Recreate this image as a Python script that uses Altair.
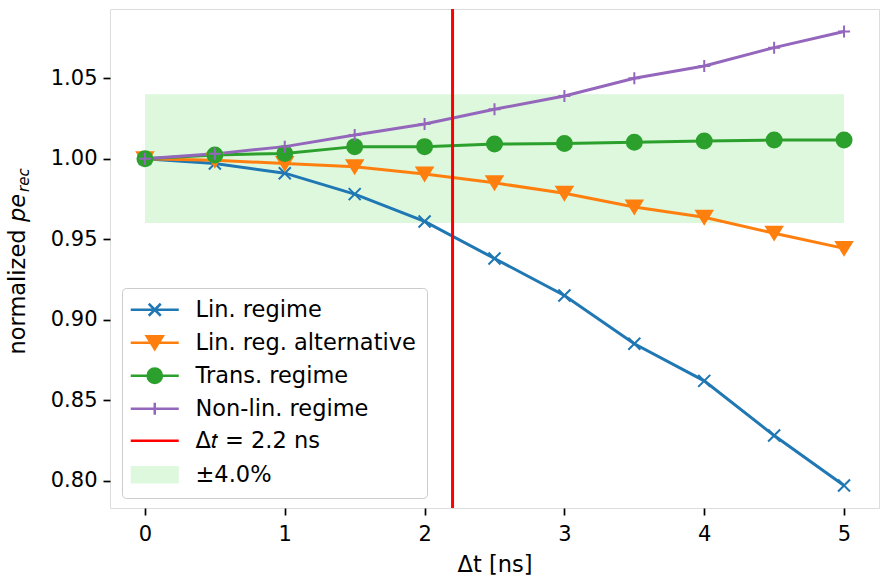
import altair as alt
import pandas as pd

# ---------------- data ----------------
dt = [0.0, 0.5, 1.0, 1.5, 2.0, 2.5, 3.0, 3.5, 4.0, 4.5, 5.0]
lin_regime = [1.000, 0.997, 0.991, 0.978, 0.961, 0.938, 0.915, 0.885, 0.862, 0.828, 0.797]
lin_alt = [1.000, 0.999, 0.997, 0.995, 0.9905, 0.985, 0.9785, 0.970, 0.9636, 0.9537, 0.9443]
trans_regime = [1.000, 1.0023, 1.0033, 1.0075, 1.0075, 1.0091, 1.0095, 1.0102, 1.011, 1.0116, 1.0116]
nonlin_regime = [1.000, 1.003, 1.0075, 1.0147, 1.0216, 1.0307, 1.039, 1.050, 1.0576, 1.069, 1.079]

series_names = ["Lin. regime", "Lin. reg. alternative", "Trans. regime", "Non-lin. regime"]
series_colors = ["#1f77b4", "#ff7f0e", "#2ca02c", "#9467bd"]

vline_x = [2.2]
vline_label = ["Δ𝑡 = 2.2 ns"]
band_x0 = [0.0]
band_x1 = [5.0]
band_lo = [0.96]
band_hi = [1.04]
band_label = ["±4.0%"]

x_ticks = [0, 1, 2, 3, 4, 5]
y_ticks = [0.80, 0.85, 0.90, 0.95, 1.00, 1.05]

ytitle_main = ["normalized"]
ytitle_var = ["pe"]
ytitle_sub = ["rec"]

FONT = "DejaVu Sans"
FS_TICK = 21
FS = 22.5

# ---------------- tables ----------------
rows = []
for name, vals in zip(series_names, [lin_regime, lin_alt, trans_regime, nonlin_regime]):
    for x, v in zip(dt, vals):
        rows.append({"dt": x, "val": v, "series": name})
df = pd.DataFrame(rows)

df_vline = pd.DataFrame({"x": vline_x, "label": vline_label})
df_band = pd.DataFrame({"x0": band_x0, "x1": band_x1, "lo": band_lo, "hi": band_hi, "label": band_label})

legend_labels = series_names + vline_label + band_label
df_legend = pd.DataFrame({"label": legend_labels})

xscale = alt.Scale(domain=[-0.25, 5.25], nice=False, zero=False)
yscale = alt.Scale(domain=[0.783, 1.093], nice=False, zero=False)

xaxis = alt.Axis(values=x_ticks, format="d", title="Δt [ns]", grid=False, domain=False,
                 tickSize=7, tickWidth=1.7, tickColor="black", labelPadding=8,
                 labelFontSize=FS_TICK, labelFont=FONT, labelColor="black",
                 titleFontSize=FS, titleFont=FONT, titleFontWeight="normal",
                 titleColor="black", titlePadding=9)
yaxis = alt.Axis(values=y_ticks, format=".2f", title=None, grid=False, domain=False,
                 tickSize=7, tickWidth=1.7, tickColor="black", labelPadding=6,
                 labelFontSize=FS_TICK, labelFont=FONT, labelColor="black")

# chart marker shapes (unit = sqrt(size)/2)
chart_shapes = [
    "M-1,-1L1,1M-1,1L1,-1",
    "M-1.33,-1.08L1.33,-1.08L0,1.08Z",
    "M1.25,0A1.25,1.25 0 1,1 -1.25,0A1.25,1.25 0 1,1 1.25,0Z",
    "M-1,0H1M0,-1V1",
]
chart_fills = ["transparent", "#ff7f0e", "#2ca02c", "transparent"]

band_color = "#ddf8dd"

band = alt.Chart(df_band).mark_rect(color=band_color).encode(
    x=alt.X("x0:Q", scale=xscale, axis=xaxis),
    x2="x1:Q",
    y=alt.Y("lo:Q", scale=yscale, axis=yaxis),
    y2="hi:Q",
)

lines = alt.Chart(df).mark_line(strokeWidth=3).encode(
    x=alt.X("dt:Q", scale=xscale, axis=xaxis),
    y=alt.Y("val:Q", scale=yscale, axis=yaxis),
    color=alt.Color("series:N", scale=alt.Scale(domain=series_names, range=series_colors), legend=None),
)

points = alt.Chart(df).mark_point(size=144, strokeWidth=2, opacity=1).encode(
    x=alt.X("dt:Q", scale=xscale, axis=xaxis),
    y=alt.Y("val:Q", scale=yscale, axis=yaxis),
    shape=alt.Shape("series:N", scale=alt.Scale(domain=series_names, range=chart_shapes), legend=None),
    stroke=alt.Stroke("series:N", scale=alt.Scale(domain=series_names, range=series_colors), legend=None),
    fill=alt.Fill("series:N", scale=alt.Scale(domain=series_names, range=chart_fills), legend=None),
)

vline = alt.Chart(df_vline).mark_rule(color="#ff0000", strokeWidth=3).encode(
    x=alt.X("x:Q", scale=xscale, axis=xaxis),
)

# legend symbols (unit = 9 px, size 324)
L = "M-2.667,0H2.667"
legend_shapes = [
    L + "M-0.667,-0.667L0.667,0.667M-0.667,0.667L0.667,-0.667",
    L + "M-0.889,-0.72L0.889,-0.72L0,0.72Z",
    L + "M0.8,0A0.8,0.8 0 1,1 -0.8,0A0.8,0.8 0 1,1 0.8,0Z",
    L + "M-0.667,0H0.667M0,-0.667V0.667",
    L,
    "M-2.53,-0.84H2.53V0.84H-2.53Z",
]
legend_colors = series_colors + ["#ff0000", band_color]

leg = alt.Legend(
    title=None, orient="none", legendX=12, legendY=279, direction="vertical",
    padding=10.5, fillColor="rgba(255,255,255,0.85)", strokeColor="#cccccc",
    cornerRadius=4, labelFont=FONT, labelFontSize=FS, labelColor="black",
    labelLimit=500, labelOffset=29.5, symbolOffset=11, symbolSize=324,
    symbolStrokeWidth=2.5, rowPadding=9.0,
)

legend_layer = alt.Chart(df_legend).transform_filter("false").mark_point(
    filled=True, opacity=1, size=324, strokeWidth=2.5
).encode(
    shape=alt.Shape("label:N", scale=alt.Scale(domain=legend_labels, range=legend_shapes), legend=leg),
    fill=alt.Fill("label:N", scale=alt.Scale(domain=legend_labels, range=legend_colors), legend=leg),
    stroke=alt.Stroke("label:N", scale=alt.Scale(domain=legend_labels, range=legend_colors), legend=leg),
)

# y-axis title as rotated text pieces
t_main = alt.Chart(pd.DataFrame({"t": ytitle_main})).mark_text(
    angle=270, align="left", baseline="alphabetic", font=FONT, fontSize=FS, color="black"
).encode(text="t:N", x=alt.value(-85), y=alt.value(345.5))
t_var = alt.Chart(pd.DataFrame({"t": ytitle_var})).mark_text(
    angle=270, align="left", baseline="alphabetic", font=FONT, fontSize=FS, fontStyle="italic", color="black"
).encode(text="t:N", x=alt.value(-85), y=alt.value(213))
t_sub = alt.Chart(pd.DataFrame({"t": ytitle_sub})).mark_text(
    angle=270, align="left", baseline="alphabetic", font=FONT, fontSize=15, fontStyle="italic", color="black"
).encode(text="t:N", x=alt.value(-81.5), y=alt.value(183))

chart = alt.layer(
    band, lines, points, vline, legend_layer, t_main, t_var, t_sub
).resolve_scale(
    color="independent", fill="independent", stroke="independent", shape="independent"
).properties(
    width=769, height=499,
    autosize=alt.AutoSizeParams(type="none"),
    padding={"left": 110, "top": 9, "right": 1, "bottom": 70},
).configure_view(
    stroke="black", strokeWidth=1.7
).configure(
    font=FONT, background="white"
)

chart.save("out.html", embed_options={"renderer": "svg", "actions": False})
